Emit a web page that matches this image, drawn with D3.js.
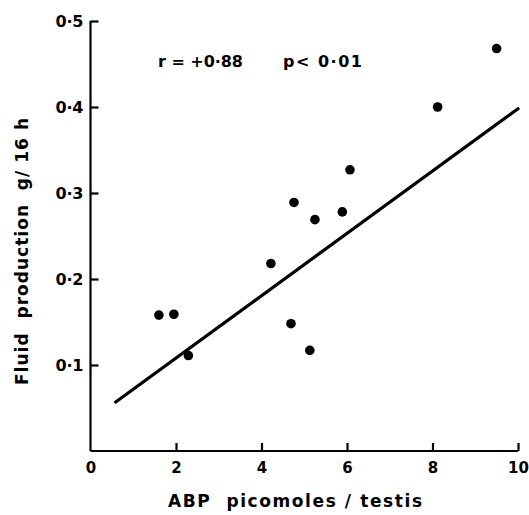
<!DOCTYPE html>
<html><head><meta charset="utf-8">
<script src="https://cdn.jsdelivr.net/npm/d3@7"></script>
<style>body{margin:0;background:#fff}svg{display:block}text{font-family:"DejaVu Sans",sans-serif;font-weight:bold;fill:#000}</style>
</head><body>
<script>
const abp = [1.60, 1.95, 2.29, 4.22, 4.69, 4.76, 5.25, 5.13, 5.89, 6.07, 8.12, 9.50];
const fluid = [0.158, 0.159, 0.111, 0.218, 0.148, 0.289, 0.269, 0.117, 0.278, 0.327, 0.400, 0.468];
const lineX = [0.59, 10];
const lineY = [0.057, 0.398];
const xTicks = [0, 2, 4, 6, 8, 10];
const xTickLabels = ["0", "2", "4", "6", "8", "10"];
const yTicks = [0.1, 0.2, 0.3, 0.4, 0.5];
const yTickLabels = ["0·1", "0·2", "0·3", "0·4", "0·5"];
const xTitle = "ABP  picomoles / testis";
const yTitle = "Fluid  production  g/ 16 h";
const annotations = ["r = +0·88", "p< 0·01"];

const W = 529, H = 515;
const svg = d3.select("body").append("svg").attr("width", W).attr("height", H);
const x = d3.scaleLinear().domain([0, 10]).range([90.5, 518]);
const y = d3.scaleLinear().domain([0, 0.5]).range([451, 21]);
const FF = "DejaVu Sans, sans-serif";

// x axis
const gx = svg.append("g").attr("transform", `translate(0,${y(0)})`)
  .call(d3.axisBottom(x).tickValues(xTicks).tickSize(-8).tickFormat((d, i) => xTickLabels[i]));
gx.select(".domain").attr("stroke", "#000").attr("stroke-width", 2.2).attr("d", `M${x(0)},0H${x(10)}`);
gx.selectAll(".tick line").attr("stroke", "#000").attr("stroke-width", 2.2);
gx.selectAll(".tick").filter(d => d === 0).select("line").remove();
gx.selectAll(".tick text").attr("y", 11).attr("font-size", 15).attr("font-family", FF).attr("font-weight", "bold");

// y axis
const gy = svg.append("g").attr("transform", `translate(${x(0)},0)`)
  .call(d3.axisLeft(y).tickValues(yTicks).tickSize(-8).tickFormat((d, i) => yTickLabels[i]));
gy.select(".domain").attr("stroke", "#000").attr("stroke-width", 2.2).attr("d", `M0,${y(0)}V${y(0.5)}`);
gy.selectAll(".tick line").attr("stroke", "#000").attr("stroke-width", 2.2);
gy.selectAll(".tick text").attr("x", -7).attr("font-size", 16).attr("font-family", FF).attr("font-weight", "bold")
  .attr("textLength", 28).attr("lengthAdjust", "spacing");

// regression line
svg.append("line")
  .attr("x1", x(lineX[0])).attr("y1", y(lineY[0]))
  .attr("x2", x(lineX[1])).attr("y2", y(lineY[1]))
  .attr("stroke", "#000").attr("stroke-width", 3.2).attr("stroke-linecap", "round");

// points
svg.append("g").selectAll("circle").data(abp).join("circle")
  .attr("cx", d => x(d)).attr("cy", (d, i) => y(fluid[i])).attr("r", 4.8).attr("fill", "#000");

// annotations
svg.append("text").attr("x", 158).attr("y", 67).attr("font-size", 16)
  .attr("textLength", 85).attr("lengthAdjust", "spacing").text(annotations[0]);
svg.append("text").attr("x", 283).attr("y", 67).attr("font-size", 16)
  .attr("textLength", 79).attr("lengthAdjust", "spacing").text(annotations[1]);

// titles
svg.append("text").attr("x", 168).attr("y", 507).attr("font-size", 17)
  .attr("textLength", 254).attr("lengthAdjust", "spacing").style("white-space", "pre").text(xTitle);
svg.append("text").attr("transform", "translate(28,385) rotate(-90)").attr("font-size", 17)
  .attr("textLength", 267).attr("lengthAdjust", "spacing").style("white-space", "pre").text(yTitle);
</script>
</body></html>
